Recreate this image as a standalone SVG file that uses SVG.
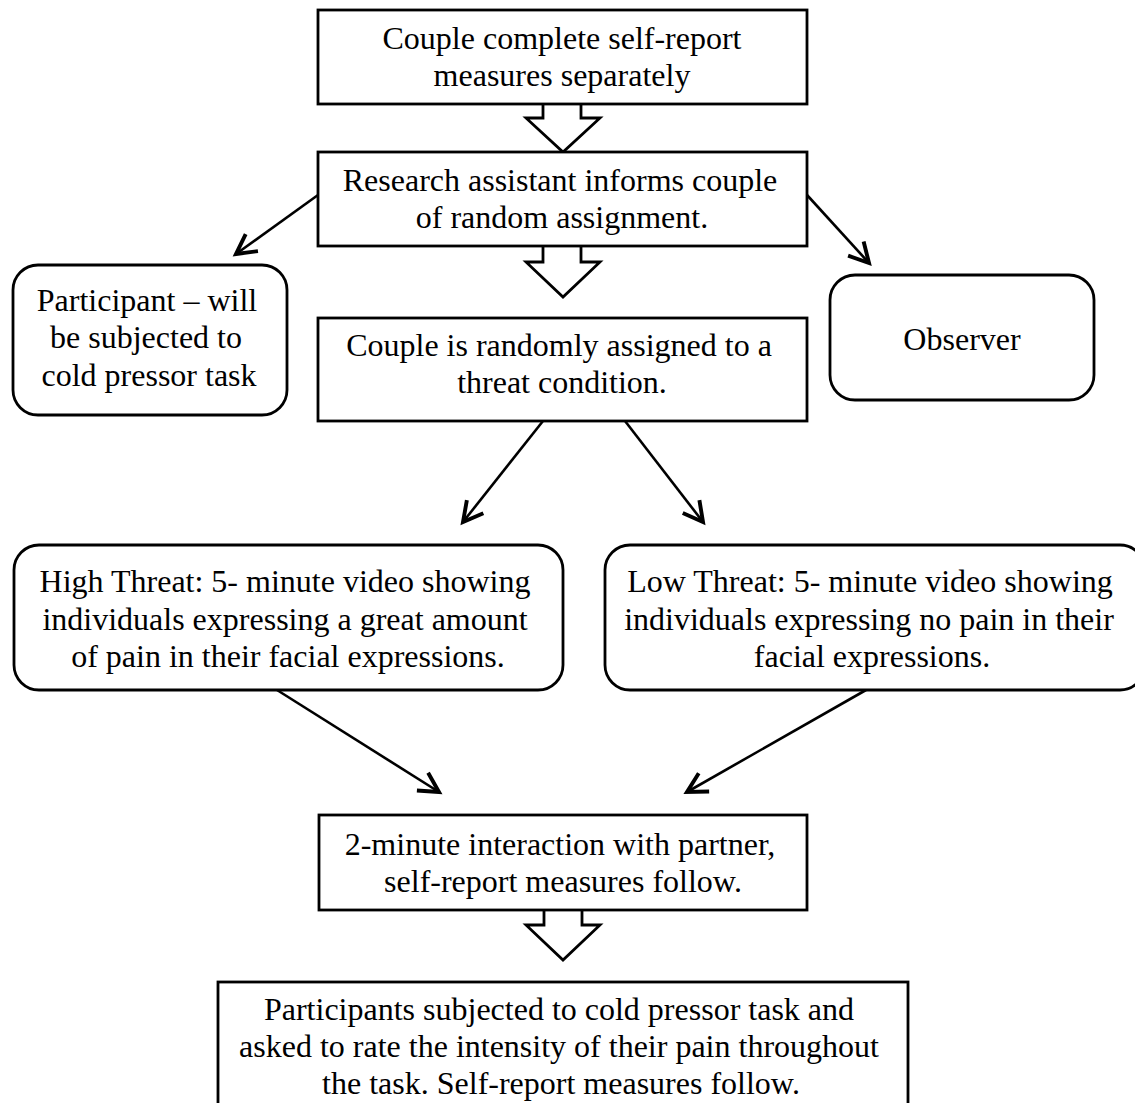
<svg xmlns="http://www.w3.org/2000/svg" width="1135" height="1103" viewBox="0 0 1135 1103">
<style>
.box{fill:#fff;stroke:#000;stroke-width:2.8}
.blk{fill:#fff;stroke:#000;stroke-width:2.8;stroke-linejoin:miter}
.t{font-family:"Liberation Serif","Times New Roman",serif;font-size:32px;fill:#000;text-anchor:middle}
.c{fill:none;stroke:#000;stroke-width:2.6}
</style>
<defs>
<marker id="ah" markerUnits="userSpaceOnUse" markerWidth="30" markerHeight="30" viewBox="-16 -10 20 20" refX="0" refY="0" orient="auto">
<path d="M-13,-7 L0,0 L-13,7" fill="none" stroke="#000" stroke-width="2.6"/>
</marker>
</defs>
<rect width="1135" height="1103" fill="#fff"/>
<g id="connectors">
<path class="c" d="M318,195 L236,254" marker-end="url(#ah)"/>
<path class="c" d="M807,195 L869,263" marker-end="url(#ah)"/>
<path class="c" d="M543,421 L463,522" marker-end="url(#ah)"/>
<path class="c" d="M625,421 L703,522" marker-end="url(#ah)"/>
<path class="c" d="M277,690 L439,792" marker-end="url(#ah)"/>
<path class="c" d="M866,690 L687,792" marker-end="url(#ah)"/>
<polygon class="blk" points="543,102 543,118 526,118 563,152 600,118 581,118 581,102"/>
<polygon class="blk" points="543,244 543,262 526,262 563,297 600,262 581,262 581,244"/>
<polygon class="blk" points="544,908 544,925 526,925 563,960 600,925 582,925 582,908"/>
</g>
<g id="n1">
<rect class="box" x="318" y="10" width="489" height="94"/>
<text class="t" x="562" y="49">Couple complete self-report</text>
<text class="t" x="562" y="86">measures separately</text>
</g>
<g id="n2">
<rect class="box" x="318" y="152" width="489" height="94"/>
<text class="t" x="560" y="191">Research assistant informs couple</text>
<text class="t" x="562" y="228">of random assignment.</text>
</g>
<g id="n3">
<rect class="box" x="318" y="318" width="489" height="103"/>
<text class="t" x="559" y="356">Couple is randomly assigned to a</text>
<text class="t" x="562" y="393">threat condition.</text>
</g>
<g id="participant">
<rect class="box" x="13" y="265" width="274" height="150" rx="25"/>
<text class="t" x="147" y="311">Participant – will</text>
<text class="t" x="146" y="348">be subjected to</text>
<text class="t" x="149" y="386">cold pressor task</text>
</g>
<g id="observer">
<rect class="box" x="830" y="275" width="264" height="125" rx="25"/>
<text class="t" x="962" y="350">Observer</text>
</g>
<g id="high">
<rect class="box" x="14" y="545" width="549" height="145" rx="25"/>
<text class="t" x="285" y="592">High Threat: 5- minute video showing</text>
<text class="t" x="285" y="630">individuals expressing a great amount</text>
<text class="t" x="288" y="667">of pain in their facial expressions.</text>
</g>
<g id="low">
<rect class="box" x="605" y="545" width="540" height="145" rx="25"/>
<text class="t" x="870" y="592">Low Threat: 5- minute video showing</text>
<text class="t" x="869" y="630">individuals expressing no pain in their</text>
<text class="t" x="872" y="667">facial expressions.</text>
</g>
<g id="n4">
<rect class="box" x="319" y="815" width="488" height="95"/>
<text class="t" x="560" y="855">2-minute interaction with partner,</text>
<text class="t" x="563" y="892">self-report measures follow.</text>
</g>
<g id="n5">
<rect class="box" x="218" y="982" width="690" height="130"/>
<text class="t" x="559" y="1020">Participants subjected to cold pressor task and</text>
<text class="t" x="559" y="1057">asked to rate the intensity of their pain throughout</text>
<text class="t" x="561" y="1094">the task. Self-report measures follow.</text>
</g>
</svg>
